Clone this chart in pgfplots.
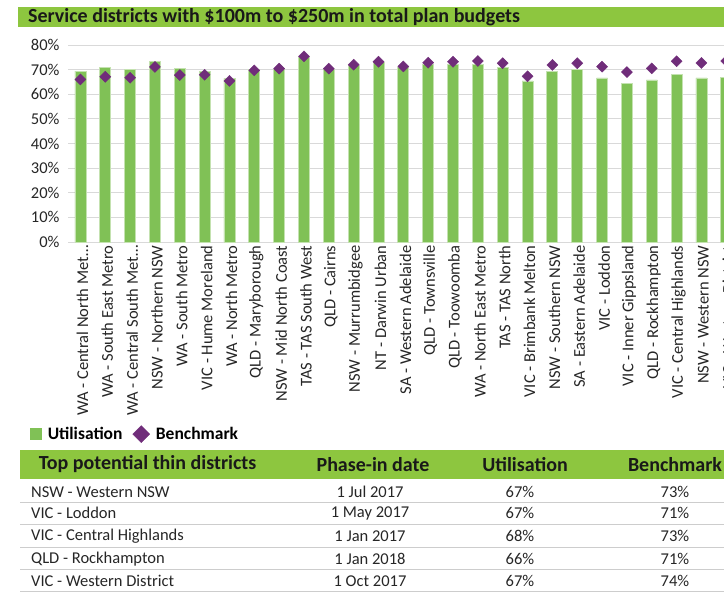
\documentclass[border=0pt]{standalone}
\usepackage{pgfplots}
\pgfplotsset{compat=1.18}
\usepackage{fontspec}
\setmainfont{Carlito}
\definecolor{titleGreen}{RGB}{141,198,63}
\definecolor{barGreen}{RGB}{128,193,86}
\definecolor{barEdge}{RGB}{196,226,176}
\definecolor{benchPurple}{RGB}{112,45,122}
\definecolor{gridGray}{RGB}{217,217,217}
\definecolor{rowLine}{RGB}{205,205,205}
\begin{document}
\begin{tikzpicture}[x=1pt,y=1pt]
\useasboundingbox (0,0) rectangle (724,593);
\clip (0,0) rectangle (724,593);
% title bar
\fill[titleGreen] (18,566) rectangle (724,586);
\node[anchor=west, inner sep=0pt, font=\fontsize{20}{22}\selectfont\bfseries, text=black!90] at (28,576) {Service districts with \$100m to \$250m in total plan budgets};
\begin{axis}[
  at={(68pt,351pt)}, anchor=south west,
  scale only axis, width=670.7pt, height=197pt,
  xmin=-0.5, xmax=26.5, ymin=0, ymax=80,
  ytick={0,10,20,30,40,50,60,70,80},
  yticklabels={0\%,10\%,20\%,30\%,40\%,50\%,60\%,70\%,80\%},
  xtick={0,1,2,3,4,5,6,7,8,9,10,11,12,13,14,15,16,17,18,19,20,21,22,23,24,25,26},
  xticklabels={WA - Central North Met\ldots,WA - South East Metro,WA - Central South Met\ldots,NSW - Northern NSW,WA - South Metro,VIC - Hume Moreland,WA - North Metro,QLD - Maryborough,NSW - Mid North Coast,TAS - TAS South West,QLD - Cairns,NSW - Murrumbidgee,NT - Darwin Urban,SA - Western Adelaide,QLD - Townsville,QLD - Toowoomba,WA - North East Metro,TAS - TAS North,VIC - Brimbank Melton,NSW - Southern NSW,SA - Eastern Adelaide,VIC - Loddon,VIC - Inner Gippsland,QLD - Rockhampton,VIC - Central Highlands,NSW - Western NSW,VIC - Western District},
  ymajorgrids, grid style={gridGray, line width=0.9pt},
  axis line style={draw=none},
  major tick length=0pt,
  /pgf/number format/assume math mode=true,
  yticklabel style={font=\fontsize{16.5}{18}\selectfont, text=black!85, xshift=-5pt},
  xticklabel style={rotate=90, anchor=east, font=\fontsize{16.5}{18}\selectfont, text=black!85, yshift=-2pt},
  legend columns=2,
  legend style={at={(axis description cs:-0.057,-0.975)}, anchor=west, draw=none, fill=none,
    font=\fontsize{17.5}{19}\selectfont\bfseries, inner sep=0pt,
    /tikz/every odd column/.append style={column sep=4pt},
    /tikz/every even column/.append style={column sep=8pt}},
  clip=false,
]
\addplot[ybar, bar width=11pt, fill=barGreen, draw=barEdge, line width=0.8pt,
  legend image code/.code={\fill[barGreen] (0pt,-5.5pt) rectangle (11pt,5.5pt);}]
  coordinates {(0,69.4) (1,70.7) (2,70.1) (3,73.4) (4,70.4) (5,69.3) (6,66.4) (7,70.1) (8,70.1) (9,75.1) (10,70.1) (11,71.7) (12,72.8) (13,70.8) (14,72.3) (15,72.1) (16,72.1) (17,70.8) (18,65.4) (19,69.2) (20,70.1) (21,66.6) (22,64.5) (23,65.8) (24,67.9) (25,66.6) (26,66.8)};
\addlegendentry{Utilisation}
\addplot[only marks, mark=square*, mark size=3.9pt, mark options={rotate=45, fill=benchPurple, draw=benchPurple},
  legend image code/.code={\fill[benchPurple] (0pt,0pt) -- (8.5pt,8.5pt) -- (17pt,0pt) -- (8.5pt,-8.5pt) -- cycle;}]
  coordinates {(0,66.0) (1,67.1) (2,66.7) (3,71.1) (4,67.8) (5,67.9) (6,65.4) (7,69.7) (8,70.4) (9,75.4) (10,70.4) (11,72.0) (12,73.2) (13,71.3) (14,72.8) (15,73.2) (16,73.5) (17,72.6) (18,67.3) (19,71.9) (20,72.6) (21,71.2) (22,69.0) (23,70.5) (24,73.4) (25,72.7) (26,73.5)};
\addlegendentry{Benchmark}
\end{axis}
% table
\fill[titleGreen] (20,114) rectangle (724,143);
\begin{scope}[every node/.style={inner sep=0pt, font=\fontsize{20}{22}\selectfont\bfseries, text=black!90}]
\node at (147.5,128.5) {Top potential thin districts};
\node at (373,128.5) {Phase-in date};
\node at (525,128.5) {Utilisation};
\node at (675,128.5) {Benchmark};
\end{scope}
\begin{scope}[every node/.style={inner sep=0pt, font=\fontsize{16.5}{18}\selectfont, text=black!85}]
\foreach \y/\a/\b/\c/\d in {101/NSW - Western NSW/1 Jul 2017/67\%/73\%, 80/VIC - Loddon/1 May 2017/67\%/71\%, 57/VIC - Central Highlands/1 Jan 2017/68\%/73\%, 34/QLD - Rockhampton/1 Jan 2018/66\%/71\%, 12/VIC - Western District/1 Oct 2017/67\%/74\%}{
  \node[anchor=west] at (31,\y) {\a};
  \node at (370,\y) {\b};
  \node at (520,\y) {\c};
  \node at (675,\y) {\d};
}
\end{scope}
\foreach \y in {91,69,46,24,2}{\draw[rowLine, line width=0.9pt] (20,\y) -- (724,\y);}
\end{tikzpicture}
\end{document}
